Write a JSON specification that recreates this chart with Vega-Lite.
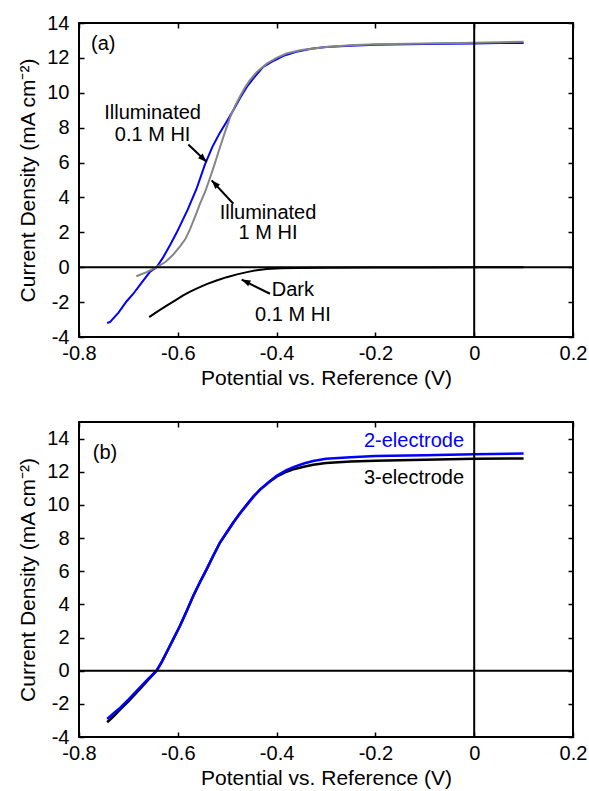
{
  "$schema": "https://vega.github.io/schema/vega-lite/v6.json",
  "background": "white",
  "padding": {"left": 16, "top": 12, "right": 0, "bottom": 0},
  "spacing": 31,
  "resolve": {"scale": {"color": "independent"}},
  "config": {
    "font": "Liberation Sans",
    "view": {"stroke": "black", "strokeWidth": 2},
    "axis": {
      "domain": false, "grid": false, "ticks": true, "tickColor": "black", "tickWidth": 1.5, "tickSize": 5, "offset": -5,
      "labelFont": "Liberation Sans", "labelFontSize": 20, "labelColor": "black",
      "labelFlush": false, "labelOverlap": false,
      "titleFont": "Liberation Sans", "titleFontSize": 21, "titleFontWeight": "normal", "titleColor": "black"
    },
    "axisX": {"labelPadding": 6, "titlePadding": 4},
    "axisY": {"labelPadding": 10, "titlePadding": 8},
    "text": {"font": "Liberation Sans", "fontSize": 20}
  },
  "datasets": {
    "a": [
      {"series": "Illuminated 0.1 M HI", "V": -0.743, "J": -3.2},
      {"series": "Illuminated 0.1 M HI", "V": -0.737, "J": -3.14},
      {"series": "Illuminated 0.1 M HI", "V": -0.72, "J": -2.6},
      {"series": "Illuminated 0.1 M HI", "V": -0.7035, "J": -1.95},
      {"series": "Illuminated 0.1 M HI", "V": -0.69, "J": -1.52},
      {"series": "Illuminated 0.1 M HI", "V": -0.675, "J": -0.95},
      {"series": "Illuminated 0.1 M HI", "V": -0.656, "J": -0.25},
      {"series": "Illuminated 0.1 M HI", "V": -0.643, "J": 0},
      {"series": "Illuminated 0.1 M HI", "V": -0.63, "J": 0.55},
      {"series": "Illuminated 0.1 M HI", "V": -0.615, "J": 1.3},
      {"series": "Illuminated 0.1 M HI", "V": -0.602, "J": 2.0},
      {"series": "Illuminated 0.1 M HI", "V": -0.58, "J": 3.3},
      {"series": "Illuminated 0.1 M HI", "V": -0.562, "J": 4.5},
      {"series": "Illuminated 0.1 M HI", "V": -0.545, "J": 5.9},
      {"series": "Illuminated 0.1 M HI", "V": -0.53, "J": 6.9},
      {"series": "Illuminated 0.1 M HI", "V": -0.515, "J": 7.7},
      {"series": "Illuminated 0.1 M HI", "V": -0.5, "J": 8.4},
      {"series": "Illuminated 0.1 M HI", "V": -0.4876, "J": 9.0},
      {"series": "Illuminated 0.1 M HI", "V": -0.474, "J": 9.7},
      {"series": "Illuminated 0.1 M HI", "V": -0.46, "J": 10.35},
      {"series": "Illuminated 0.1 M HI", "V": -0.445, "J": 10.9},
      {"series": "Illuminated 0.1 M HI", "V": -0.427, "J": 11.48},
      {"series": "Illuminated 0.1 M HI", "V": -0.405, "J": 11.85},
      {"series": "Illuminated 0.1 M HI", "V": -0.386, "J": 12.12},
      {"series": "Illuminated 0.1 M HI", "V": -0.36, "J": 12.35},
      {"series": "Illuminated 0.1 M HI", "V": -0.33, "J": 12.52},
      {"series": "Illuminated 0.1 M HI", "V": -0.3, "J": 12.62},
      {"series": "Illuminated 0.1 M HI", "V": -0.25, "J": 12.7},
      {"series": "Illuminated 0.1 M HI", "V": -0.2, "J": 12.75},
      {"series": "Illuminated 0.1 M HI", "V": -0.1, "J": 12.8},
      {"series": "Illuminated 0.1 M HI", "V": 0, "J": 12.83},
      {"series": "Illuminated 0.1 M HI", "V": 0.05, "J": 12.85},
      {"series": "Illuminated 0.1 M HI", "V": 0.1, "J": 12.86},
      {"series": "Illuminated 1 M HI", "V": -0.684, "J": -0.52},
      {"series": "Illuminated 1 M HI", "V": -0.663, "J": -0.28},
      {"series": "Illuminated 1 M HI", "V": -0.643, "J": 0},
      {"series": "Illuminated 1 M HI", "V": -0.625, "J": 0.3},
      {"series": "Illuminated 1 M HI", "V": -0.61, "J": 0.7},
      {"series": "Illuminated 1 M HI", "V": -0.5955, "J": 1.2},
      {"series": "Illuminated 1 M HI", "V": -0.585, "J": 1.6},
      {"series": "Illuminated 1 M HI", "V": -0.575, "J": 2.2},
      {"series": "Illuminated 1 M HI", "V": -0.565, "J": 2.9},
      {"series": "Illuminated 1 M HI", "V": -0.555, "J": 3.64},
      {"series": "Illuminated 1 M HI", "V": -0.545, "J": 4.3},
      {"series": "Illuminated 1 M HI", "V": -0.535, "J": 5.1},
      {"series": "Illuminated 1 M HI", "V": -0.525, "J": 5.95},
      {"series": "Illuminated 1 M HI", "V": -0.515, "J": 6.85},
      {"series": "Illuminated 1 M HI", "V": -0.505, "J": 7.7},
      {"series": "Illuminated 1 M HI", "V": -0.494, "J": 8.6},
      {"series": "Illuminated 1 M HI", "V": -0.484, "J": 9.25},
      {"series": "Illuminated 1 M HI", "V": -0.474, "J": 9.8},
      {"series": "Illuminated 1 M HI", "V": -0.464, "J": 10.3},
      {"series": "Illuminated 1 M HI", "V": -0.454, "J": 10.72},
      {"series": "Illuminated 1 M HI", "V": -0.44, "J": 11.2},
      {"series": "Illuminated 1 M HI", "V": -0.42, "J": 11.67},
      {"series": "Illuminated 1 M HI", "V": -0.4, "J": 12.0},
      {"series": "Illuminated 1 M HI", "V": -0.38, "J": 12.25},
      {"series": "Illuminated 1 M HI", "V": -0.35, "J": 12.45},
      {"series": "Illuminated 1 M HI", "V": -0.3, "J": 12.63},
      {"series": "Illuminated 1 M HI", "V": -0.25, "J": 12.72},
      {"series": "Illuminated 1 M HI", "V": -0.2, "J": 12.78},
      {"series": "Illuminated 1 M HI", "V": -0.1, "J": 12.83},
      {"series": "Illuminated 1 M HI", "V": 0, "J": 12.87},
      {"series": "Illuminated 1 M HI", "V": 0.05, "J": 12.9},
      {"series": "Illuminated 1 M HI", "V": 0.1, "J": 12.92},
      {"series": "Dark 0.1 M HI", "V": -0.658, "J": -2.86},
      {"series": "Dark 0.1 M HI", "V": -0.64, "J": -2.52},
      {"series": "Dark 0.1 M HI", "V": -0.6225, "J": -2.2},
      {"series": "Dark 0.1 M HI", "V": -0.605, "J": -1.9},
      {"series": "Dark 0.1 M HI", "V": -0.59, "J": -1.63},
      {"series": "Dark 0.1 M HI", "V": -0.575, "J": -1.4},
      {"series": "Dark 0.1 M HI", "V": -0.56, "J": -1.2},
      {"series": "Dark 0.1 M HI", "V": -0.5415, "J": -0.97},
      {"series": "Dark 0.1 M HI", "V": -0.52, "J": -0.75},
      {"series": "Dark 0.1 M HI", "V": -0.501, "J": -0.57},
      {"series": "Dark 0.1 M HI", "V": -0.48, "J": -0.41},
      {"series": "Dark 0.1 M HI", "V": -0.46, "J": -0.28},
      {"series": "Dark 0.1 M HI", "V": -0.44, "J": -0.17},
      {"series": "Dark 0.1 M HI", "V": -0.42, "J": -0.1},
      {"series": "Dark 0.1 M HI", "V": -0.39, "J": -0.06},
      {"series": "Dark 0.1 M HI", "V": -0.36, "J": -0.04},
      {"series": "Dark 0.1 M HI", "V": -0.3, "J": -0.03},
      {"series": "Dark 0.1 M HI", "V": -0.2, "J": -0.02},
      {"series": "Dark 0.1 M HI", "V": -0.1, "J": -0.01},
      {"series": "Dark 0.1 M HI", "V": 0, "J": 0},
      {"series": "Dark 0.1 M HI", "V": 0.1, "J": 0}
    ],
    "b": [
      {"series": "3-electrode", "V": -0.743, "J": -3.11},
      {"series": "3-electrode", "V": -0.73, "J": -2.75},
      {"series": "3-electrode", "V": -0.717, "J": -2.35},
      {"series": "3-electrode", "V": -0.7, "J": -1.85},
      {"series": "3-electrode", "V": -0.6765, "J": -1.1},
      {"series": "3-electrode", "V": -0.66, "J": -0.55},
      {"series": "3-electrode", "V": -0.643, "J": 0},
      {"series": "3-electrode", "V": -0.633, "J": 0.5},
      {"series": "3-electrode", "V": -0.6225, "J": 1.11},
      {"series": "3-electrode", "V": -0.61, "J": 1.85},
      {"series": "3-electrode", "V": -0.5955, "J": 2.71},
      {"series": "3-electrode", "V": -0.582, "J": 3.6},
      {"series": "3-electrode", "V": -0.5686, "J": 4.52},
      {"series": "3-electrode", "V": -0.555, "J": 5.35},
      {"series": "3-electrode", "V": -0.5415, "J": 6.13},
      {"series": "3-electrode", "V": -0.528, "J": 6.95},
      {"series": "3-electrode", "V": -0.5146, "J": 7.73},
      {"series": "3-electrode", "V": -0.5, "J": 8.38},
      {"series": "3-electrode", "V": -0.4876, "J": 8.94},
      {"series": "3-electrode", "V": -0.474, "J": 9.5},
      {"series": "3-electrode", "V": -0.4605, "J": 10.0},
      {"series": "3-electrode", "V": -0.447, "J": 10.5},
      {"series": "3-electrode", "V": -0.4336, "J": 10.92},
      {"series": "3-electrode", "V": -0.415, "J": 11.38},
      {"series": "3-electrode", "V": -0.4, "J": 11.7},
      {"series": "3-electrode", "V": -0.38, "J": 12.0},
      {"series": "3-electrode", "V": -0.366, "J": 12.15},
      {"series": "3-electrode", "V": -0.345, "J": 12.3},
      {"series": "3-electrode", "V": -0.326, "J": 12.42},
      {"series": "3-electrode", "V": -0.3, "J": 12.52},
      {"series": "3-electrode", "V": -0.25, "J": 12.62},
      {"series": "3-electrode", "V": -0.2, "J": 12.67},
      {"series": "3-electrode", "V": -0.1, "J": 12.73},
      {"series": "3-electrode", "V": 0, "J": 12.78},
      {"series": "3-electrode", "V": 0.1, "J": 12.8},
      {"series": "2-electrode", "V": -0.743, "J": -2.91},
      {"series": "2-electrode", "V": -0.735, "J": -2.7},
      {"series": "2-electrode", "V": -0.725, "J": -2.45},
      {"series": "2-electrode", "V": -0.717, "J": -2.25},
      {"series": "2-electrode", "V": -0.7, "J": -1.75},
      {"series": "2-electrode", "V": -0.6765, "J": -1.0},
      {"series": "2-electrode", "V": -0.66, "J": -0.5},
      {"series": "2-electrode", "V": -0.643, "J": 0},
      {"series": "2-electrode", "V": -0.633, "J": 0.5},
      {"series": "2-electrode", "V": -0.6225, "J": 1.11},
      {"series": "2-electrode", "V": -0.61, "J": 1.85},
      {"series": "2-electrode", "V": -0.5955, "J": 2.71},
      {"series": "2-electrode", "V": -0.582, "J": 3.6},
      {"series": "2-electrode", "V": -0.5686, "J": 4.52},
      {"series": "2-electrode", "V": -0.555, "J": 5.35},
      {"series": "2-electrode", "V": -0.5415, "J": 6.13},
      {"series": "2-electrode", "V": -0.528, "J": 6.95},
      {"series": "2-electrode", "V": -0.5146, "J": 7.73},
      {"series": "2-electrode", "V": -0.5, "J": 8.38},
      {"series": "2-electrode", "V": -0.4876, "J": 8.94},
      {"series": "2-electrode", "V": -0.474, "J": 9.5},
      {"series": "2-electrode", "V": -0.4605, "J": 10.0},
      {"series": "2-electrode", "V": -0.447, "J": 10.5},
      {"series": "2-electrode", "V": -0.4336, "J": 10.92},
      {"series": "2-electrode", "V": -0.415, "J": 11.4},
      {"series": "2-electrode", "V": -0.4, "J": 11.75},
      {"series": "2-electrode", "V": -0.38, "J": 12.1},
      {"series": "2-electrode", "V": -0.366, "J": 12.28},
      {"series": "2-electrode", "V": -0.345, "J": 12.5},
      {"series": "2-electrode", "V": -0.326, "J": 12.65},
      {"series": "2-electrode", "V": -0.3, "J": 12.78},
      {"series": "2-electrode", "V": -0.25, "J": 12.88},
      {"series": "2-electrode", "V": -0.2, "J": 12.95},
      {"series": "2-electrode", "V": -0.1, "J": 13.0},
      {"series": "2-electrode", "V": 0, "J": 13.05},
      {"series": "2-electrode", "V": 0.1, "J": 13.1}
    ],
    "arrowsA": [
      {"id": 1, "tailV": -0.5787, "tailJ": 7.04, "tipV": -0.5415, "tipJ": 6.03},
      {"id": 2, "tailV": -0.4876, "tailJ": 3.64, "tipV": -0.5315, "tipJ": 4.98},
      {"id": 3, "tailV": -0.4134, "tailJ": -1.52, "tipV": -0.4707, "tipJ": -0.71}
    ],
    "labelsA": [
      {"text": "(a)", "V": -0.7508, "J": 12.82},
      {"text": "Illuminated", "V": -0.651, "J": 8.82},
      {"text": "0.1 M HI", "V": -0.651, "J": 7.56},
      {"text": "Illuminated", "V": -0.4174, "J": 3.09},
      {"text": "1 M HI", "V": -0.4174, "J": 1.94},
      {"text": "Dark", "V": -0.367, "J": -1.33},
      {"text": "0.1 M HI", "V": -0.367, "J": -2.76}
    ],
    "labelsB": [
      {"series": "2-electrode", "text": "2-electrode", "V": -0.0206, "J": 13.86},
      {"series": "3-electrode", "text": "3-electrode", "V": -0.0206, "J": 11.65}
    ],
    "panelB": [
      {"text": "(b)", "V": -0.7474, "J": 13.15}
    ]
  },
  "vconcat": [
    {
      "width": 494,
      "height": 314,
      "resolve": {"axis": {"x": "independent", "y": "independent"}},
      "layer": [
        {
          "data": {"name": "a"},
          "mark": {"type": "line", "strokeWidth": 2},
          "encoding": {
            "x": {"field": "V", "type": "quantitative", "scale": {"domain": [-0.8, 0.2], "nice": false, "zero": false},
              "axis": {"orient": "bottom", "values": [-0.8, -0.6, -0.4, -0.2, 0, 0.2], "format": "~g", "labelExpr": "replace(datum.label, '\u2212', '-')", "title": "Potential vs. Reference (V)"}},
            "y": {"field": "J", "type": "quantitative", "scale": {"domain": [-4, 14], "nice": false, "zero": false},
              "axis": {"orient": "left", "values": [-4, -2, 0, 2, 4, 6, 8, 10, 12, 14], "format": "~g", "labelExpr": "replace(datum.label, '\u2212', '-')", "title": "Current Density (mA cm\u207b\u00b2)"}},
            "color": {"field": "series", "type": "nominal", "legend": null,
              "scale": {"domain": ["Illuminated 0.1 M HI", "Illuminated 1 M HI", "Dark 0.1 M HI"], "range": ["#0000ff", "#858585", "#000000"]}}
          }
        },
        {
          "data": {"values": [{}]},
          "mark": {"type": "rule", "color": "black", "strokeWidth": 2},
          "encoding": {
            "x": {"datum": 0, "type": "quantitative",
              "axis": {"orient": "top", "values": [-0.8, -0.6, -0.4, -0.2, 0, 0.2], "labels": false, "title": null}}
          }
        },
        {
          "data": {"values": [{}]},
          "mark": {"type": "rule", "color": "black", "strokeWidth": 2},
          "encoding": {
            "y": {"datum": 0, "type": "quantitative",
              "axis": {"orient": "right", "values": [-4, -2, 0, 2, 4, 6, 8, 10, 12, 14], "labels": false, "title": null}}
          }
        },
        {
          "data": {"name": "arrowsA"},
          "mark": {"type": "rule", "color": "black", "strokeWidth": 2},
          "encoding": {
            "x": {"field": "tailV", "type": "quantitative", "axis": null},
            "y": {"field": "tailJ", "type": "quantitative", "axis": null},
            "x2": {"field": "tipV"},
            "y2": {"field": "tipJ"}
          }
        },
        {
          "data": {"name": "arrowsA"},
          "transform": [{"filter": "datum.id == 1"}],
          "mark": {"type": "point", "shape": "M0,0L-0.4,1.1L0.4,1.1Z", "filled": true, "color": "black", "size": 256, "angle": 134, "opacity": 1},
          "encoding": {
            "x": {"field": "tipV", "type": "quantitative", "axis": null},
            "y": {"field": "tipJ", "type": "quantitative", "axis": null}
          }
        },
        {
          "data": {"name": "arrowsA"},
          "transform": [{"filter": "datum.id == 2"}],
          "mark": {"type": "point", "shape": "M0,0L-0.4,1.1L0.4,1.1Z", "filled": true, "color": "black", "size": 256, "angle": 317, "opacity": 1},
          "encoding": {
            "x": {"field": "tipV", "type": "quantitative", "axis": null},
            "y": {"field": "tipJ", "type": "quantitative", "axis": null}
          }
        },
        {
          "data": {"name": "arrowsA"},
          "transform": [{"filter": "datum.id == 3"}],
          "mark": {"type": "point", "shape": "M0,0L-0.4,1.1L0.4,1.1Z", "filled": true, "color": "black", "size": 256, "angle": 296, "opacity": 1},
          "encoding": {
            "x": {"field": "tipV", "type": "quantitative", "axis": null},
            "y": {"field": "tipJ", "type": "quantitative", "axis": null}
          }
        },
        {
          "data": {"name": "labelsA"},
          "mark": {"type": "text", "align": "center", "baseline": "middle", "color": "black", "fontSize": 20},
          "encoding": {
            "x": {"field": "V", "type": "quantitative", "axis": null},
            "y": {"field": "J", "type": "quantitative", "axis": null},
            "text": {"field": "text"}
          }
        }
      ]
    },
    {
      "width": 494,
      "height": 315,
      "resolve": {"axis": {"x": "independent", "y": "independent"}},
      "layer": [
        {
          "data": {"name": "b"},
          "mark": {"type": "line", "strokeWidth": 2.5},
          "encoding": {
            "x": {"field": "V", "type": "quantitative", "scale": {"domain": [-0.8, 0.2], "nice": false, "zero": false},
              "axis": {"orient": "bottom", "values": [-0.8, -0.6, -0.4, -0.2, 0, 0.2], "format": "~g", "labelExpr": "replace(datum.label, '\u2212', '-')", "title": "Potential vs. Reference (V)"}},
            "y": {"field": "J", "type": "quantitative", "scale": {"domain": [-4, 15], "nice": false, "zero": false},
              "axis": {"orient": "left", "values": [-4, -2, 0, 2, 4, 6, 8, 10, 12, 14], "format": "~g", "labelExpr": "replace(datum.label, '\u2212', '-')", "title": "Current Density (mA cm\u207b\u00b2)"}},
            "color": {"field": "series", "type": "nominal", "legend": null,
              "scale": {"domain": ["3-electrode", "2-electrode"], "range": ["#000000", "#0000ff"]}}
          }
        },
        {
          "data": {"values": [{}]},
          "mark": {"type": "rule", "color": "black", "strokeWidth": 2},
          "encoding": {
            "x": {"datum": 0, "type": "quantitative",
              "axis": {"orient": "top", "values": [-0.8, -0.6, -0.4, -0.2, 0, 0.2], "labels": false, "title": null}}
          }
        },
        {
          "data": {"values": [{}]},
          "mark": {"type": "rule", "color": "black", "strokeWidth": 2},
          "encoding": {
            "y": {"datum": 0, "type": "quantitative",
              "axis": {"orient": "right", "values": [-4, -2, 0, 2, 4, 6, 8, 10, 12, 14], "labels": false, "title": null}}
          }
        },
        {
          "data": {"name": "labelsB"},
          "mark": {"type": "text", "align": "right", "baseline": "middle", "fontSize": 20},
          "encoding": {
            "x": {"field": "V", "type": "quantitative", "axis": null},
            "y": {"field": "J", "type": "quantitative", "axis": null},
            "text": {"field": "text"},
            "color": {"field": "series", "type": "nominal", "legend": null}
          }
        },
        {
          "data": {"name": "panelB"},
          "mark": {"type": "text", "align": "center", "baseline": "middle", "color": "black", "fontSize": 20},
          "encoding": {
            "x": {"field": "V", "type": "quantitative", "axis": null},
            "y": {"field": "J", "type": "quantitative", "axis": null},
            "text": {"field": "text"}
          }
        }
      ]
    }
  ]
}
